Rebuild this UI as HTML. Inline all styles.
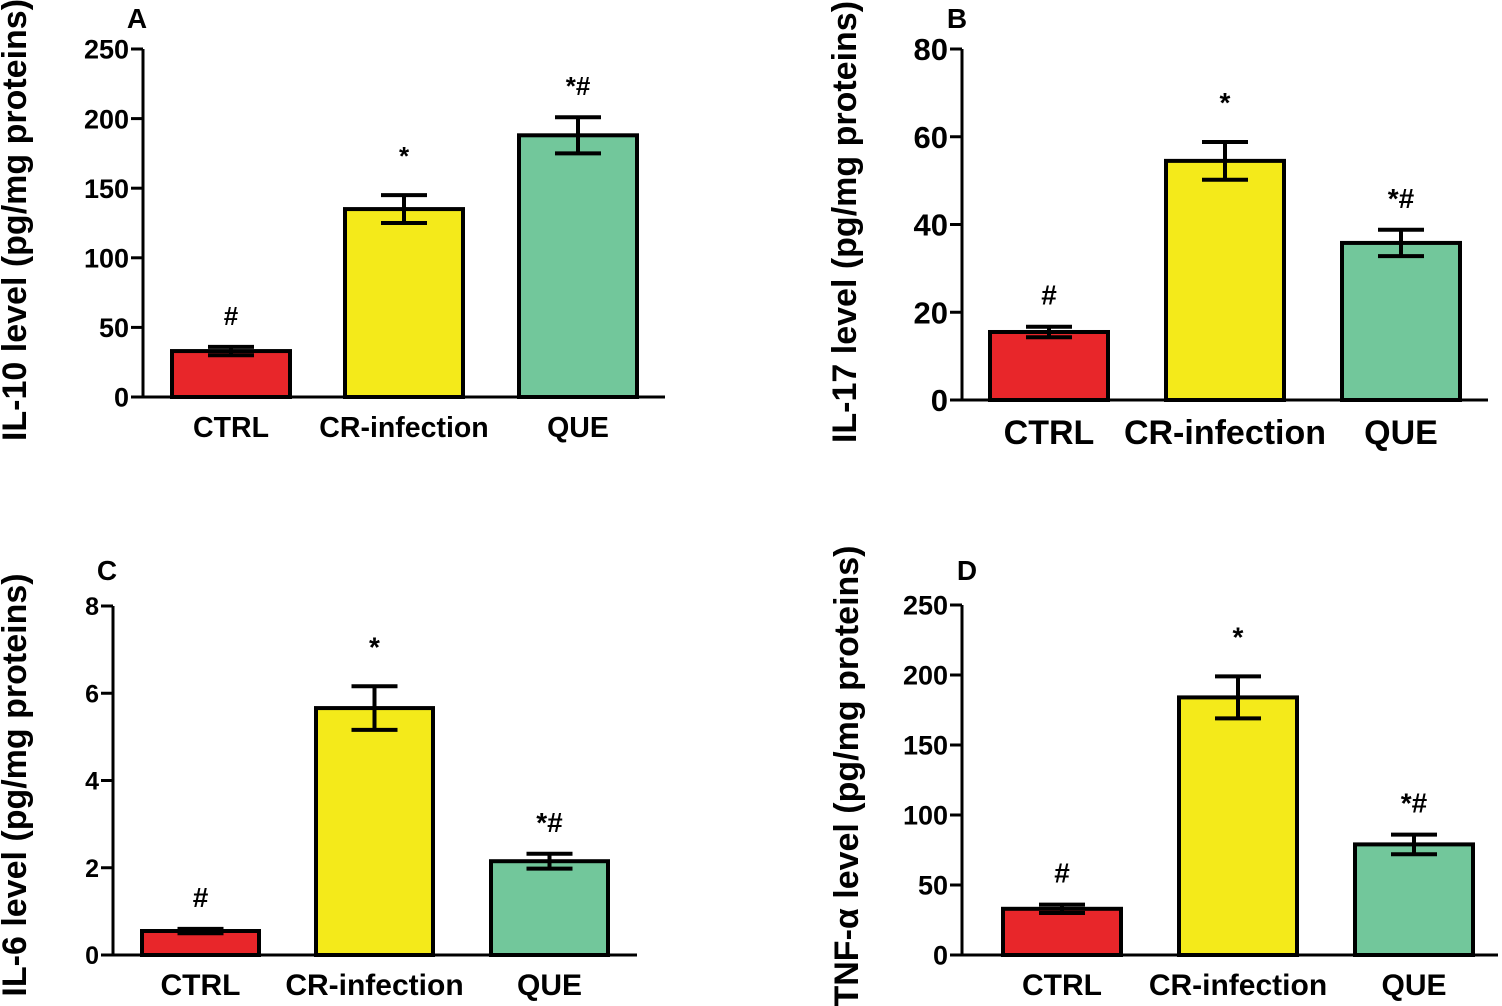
<!DOCTYPE html>
<html><head><meta charset="utf-8"><style>
html,body{margin:0;padding:0;background:#fff;}
svg{display:block;font-family:"Liberation Sans",Arial,sans-serif;font-weight:bold;}
</style></head><body>
<svg id="chart" width="1502" height="1006" viewBox="0 0 1502 1006" xmlns="http://www.w3.org/2000/svg"></svg>
<script>
const categories = ["CTRL","CR-infection","QUE"];
const il10Values = [33, 135, 188];
const il10Errors = [3, 10, 13];
const il10Marks = ["#", "*", "*#"];
const il17Values = [15.5, 54.5, 35.8];
const il17Errors = [1.2, 4.3, 3];
const il17Marks = ["#", "*", "*#"];
const il6Values = [0.55, 5.66, 2.15];
const il6Errors = [0.05, 0.5, 0.17];
const il6Marks = ["#", "*", "*#"];
const tnfValues = [33, 184, 79];
const tnfErrors = [3, 15, 7];
const tnfMarks = ["#", "*", "*#"];
const ticksA = [0,50,100,150,200,250];
const ticksB = [0,20,40,60,80];
const ticksC = [0,2,4,6,8];
const ticksD = [0,50,100,150,200,250];
const colors = ["#e8262a","#f4ea1a","#72c79b"];

const svg = document.getElementById('chart');
const NS = "http://www.w3.org/2000/svg";
function mk(tag, attrs, parent){
  const e = document.createElementNS(NS, tag);
  for (const k in attrs) e.setAttribute(k, attrs[k]);
  (parent||svg).appendChild(e);
  return e;
}

function panel(cfg){
  const g = mk('g', {});
  
  
  const yMax = cfg.ticks[cfg.ticks.length-1];
  const y = v => cfg.y0 - (v / yMax) * (cfg.y0 - cfg.yTop);
  const ax = mk('line', {x1:cfg.ax, y1:cfg.yTop, x2:cfg.ax, y2:cfg.y0+1.5, stroke:'#000','stroke-width':3}, g);
  
  
  const xa = mk('line', {x1:cfg.ax-1.5, y1:cfg.y0, x2:cfg.axEnd, y2:cfg.y0, stroke:'#000','stroke-width':3}, g);
  
  
  cfg.ticks.forEach(t => {
    const yy = y(t);
    mk('line', {x1:cfg.ax-12, y1:yy, x2:cfg.ax, y2:yy, stroke:'#000','stroke-width':3}, g);
    const tx = mk('text', {x:cfg.ax-14, y:yy + cfg.tickFs*0.36, 'text-anchor':'end','font-size':cfg.tickFs}, g);
    tx.textContent = t;
    
    
  });
  categories.forEach((c, i) => {
    const xl = cfg.barX[i], w = cfg.barW;
    const cx = xl + w/2;
    const top = y(cfg.values[i]);
    const r = mk('rect', {x:xl, y:top, width:w, height:cfg.y0-top, fill:colors[i], stroke:'#000','stroke-width':4}, g);
    
    
    const hi = y(cfg.values[i] + cfg.errors[i]), lo = y(cfg.values[i] - cfg.errors[i]);
    const eb = mk('path', {d:`M${cx-23},${hi}H${cx+23}M${cx},${hi}V${lo}M${cx-23},${lo}H${cx+23}`, stroke:'#000','stroke-width':4, fill:'none'}, g);
    
    
    const mkT = mk('text', {x:cx, y:hi - (cfg.marks[i]==='*' ? 30 : 22), 'text-anchor':'middle','font-size':cfg.markFs}, g);
    mkT.textContent = cfg.marks[i];
    
    
    const lab = mk('text', {x:cx, y:cfg.labY, 'text-anchor':'middle','font-size':cfg.labFs}, g);
    lab.textContent = c;
    
    
  });
  const tt = mk('text', {x:0, y:0, 'text-anchor':'middle','font-size':cfg.titleFs, transform:`translate(${cfg.titleX},${cfg.titleY}) rotate(-90)`}, g);
  tt.textContent = cfg.title;
  
  
  const lt = mk('text', {x:cfg.letterX, y:cfg.letterY, 'text-anchor':'middle','font-size':28}, g);
  lt.textContent = cfg.id;
  
  
}

panel({id:'A', ax:143, axEnd:665, y0:397, yTop:49, ticks:ticksA, values:il10Values, errors:il10Errors, marks:il10Marks,
  barX:[172,345,519], barW:118, labY:437, labFs:28.5, tickFs:27, markFs:26,
  title:'IL-10 level (pg/mg proteins)', titleX:26, titleY:220, titleFs:34, letterX:137, letterY:28});
panel({id:'B', ax:962, axEnd:1488, y0:400, yTop:49, ticks:ticksB, values:il17Values, errors:il17Errors, marks:il17Marks,
  barX:[990,1166,1342], barW:118, labY:444, labFs:34, tickFs:31, markFs:28,
  title:'IL-17 level (pg/mg proteins)', titleX:856, titleY:222, titleFs:34, letterX:957, letterY:28});
panel({id:'C', ax:113, axEnd:637, y0:955, yTop:606, ticks:ticksC, values:il6Values, errors:il6Errors, marks:il6Marks,
  barX:[142,316,491], barW:117, labY:995, labFs:30, tickFs:25, markFs:28,
  title:'IL-6 level (pg/mg proteins)', titleX:26, titleY:785, titleFs:34, letterX:107, letterY:580});
panel({id:'D', ax:962, axEnd:1498, y0:955, yTop:605, ticks:ticksD, values:tnfValues, errors:tnfErrors, marks:tnfMarks,
  barX:[1003,1179,1355], barW:118, labY:995, labFs:30, tickFs:27, markFs:28,
  title:'TNF-α level (pg/mg proteins)', titleX:858, titleY:776, titleFs:34, letterX:967, letterY:580});
</script>
</body></html>
